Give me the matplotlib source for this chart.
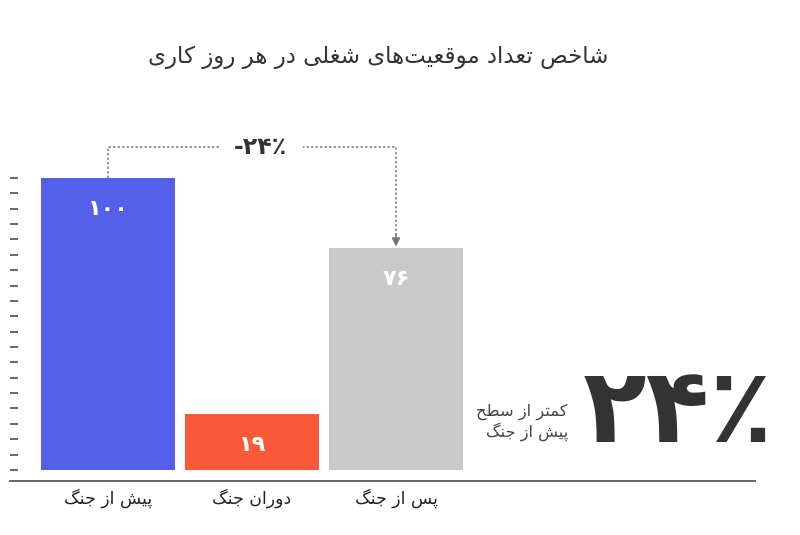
import matplotlib
matplotlib.use('Agg')
import matplotlib.pyplot as plt
import numpy as np

# data
categories = ['پیش از جنگ', 'دوران جنگ', 'پس از جنگ']
values = [100, 19, 76]
bar_colors = ['#5560ea', '#fa5a3a', '#c9c9c9']
title = 'شاخص تعداد موقعیت\u200cهای شغلی در هر روز کاری'
change_label = '-۲۴٪'
big_label = '۲۴٪'
note_lines = ['کمتر از سطح', 'پیش از جنگ']

# presentation forms: (isolated, final, initial, medial) or (isolated, final)
FORMS = {
    'ا': (0xFE8D, 0xFE8E), 'د': (0xFEA9, 0xFEAA), 'ذ': (0xFEAB, 0xFEAC),
    'ر': (0xFEAD, 0xFEAE), 'ز': (0xFEAF, 0xFEB0), 'و': (0xFEED, 0xFEEE),
    'ب': (0xFE8F, 0xFE90, 0xFE91, 0xFE92), 'پ': (0xFB56, 0xFB57, 0xFB58, 0xFB59),
    'ت': (0xFE95, 0xFE96, 0xFE97, 0xFE98), 'ج': (0xFE9D, 0xFE9E, 0xFE9F, 0xFEA0),
    'ح': (0xFEA1, 0xFEA2, 0xFEA3, 0xFEA4), 'خ': (0xFEA5, 0xFEA6, 0xFEA7, 0xFEA8),
    'س': (0xFEB1, 0xFEB2, 0xFEB3, 0xFEB4), 'ش': (0xFEB5, 0xFEB6, 0xFEB7, 0xFEB8),
    'ص': (0xFEB9, 0xFEBA, 0xFEBB, 0xFEBC), 'ط': (0xFEC1, 0xFEC2, 0xFEC3, 0xFEC4),
    'ع': (0xFEC9, 0xFECA, 0xFECB, 0xFECC), 'غ': (0xFECD, 0xFECE, 0xFECF, 0xFED0),
    'ف': (0xFED1, 0xFED2, 0xFED3, 0xFED4), 'ق': (0xFED5, 0xFED6, 0xFED7, 0xFED8),
    'ک': (0xFB8E, 0xFB8F, 0xFB90, 0xFB91), 'گ': (0xFB92, 0xFB93, 0xFB94, 0xFB95),
    'ل': (0xFEDD, 0xFEDE, 0xFEDF, 0xFEE0), 'م': (0xFEE1, 0xFEE2, 0xFEE3, 0xFEE4),
    'ن': (0xFEE5, 0xFEE6, 0xFEE7, 0xFEE8), 'ه': (0xFEE9, 0xFEEA, 0xFEEB, 0xFEEC),
    'ی': (0xFBFC, 0xFBFD, 0xFBFE, 0xFBFF),
}


def fa(text):
    # crude shaping + reversal for right-to-left display
    out = []
    for i, c in enumerate(text):
        if c not in FORMS:
            out.append(c)
            continue
        prev = text[i - 1] if i > 0 else None
        nxt = text[i + 1] if i + 1 < len(text) else None
        f = FORMS[c]
        jp = prev in FORMS and len(FORMS[prev]) == 4
        jn = len(f) == 4 and nxt in FORMS
        if jp and jn:
            k = 3
        elif jp:
            k = 1
        elif jn:
            k = 2
        else:
            k = 0
        out.append(chr(f[k]))
    return ''.join(out).replace('\u200c', '')[::-1]


def fa_digits(n):
    return str(n).translate(str.maketrans('0123456789', '۰۱۲۳۴۵۶۷۸۹'))


plt.rcParams['font.family'] = ['DejaVu Sans']

fig = plt.figure(figsize=(8, 5.35), dpi=100)
ax = fig.add_axes([0.0125, 0.1009, 0.93125, 0.7121])

x = np.arange(len(values))
ax.bar(x, values, width=0.93, color=bar_colors)
for xi, v in zip(x, values):
    ax.text(xi, v - 10.5, fa_digits(v), ha='center', va='center',
            color='white', fontsize=16, fontweight='bold')

ax.set_xlim(-0.681, 4.493)
ax.set_ylim(-3.8, 126.7)

ax.set_xticks(x, [fa(c) for c in categories], fontsize=12.5, color='#222')
ax.tick_params(axis='x', length=0, pad=5)
ax.set_yticks(np.linspace(0, 100, 20))
ax.set_yticklabels([])
ax.tick_params(axis='y', direction='in', length=6, width=1.4, color='#666')
for s in ['top', 'right', 'left']:
    ax.spines[s].set_visible(False)
ax.spines['bottom'].set_color('#666')
ax.spines['bottom'].set_linewidth(1.4)

# bracket showing the drop
yb = 110.6
ax.plot([0, 0, 2, 2], [values[0], yb, yb, values[2] + 4],
        color='#888', linestyle=(0, (1.5, 1.2)), linewidth=1.2)
ax.annotate('', xy=(2, values[2] + 0.5), xytext=(2, values[2] + 4.5),
            arrowprops=dict(arrowstyle='-|>', color='#777', lw=1.2,
                            mutation_scale=12, shrinkA=0, shrinkB=0))
ax.text(1.06, yb, change_label, ha='center', va='center', fontsize=17,
        fontweight='bold', color='#333',
        bbox=dict(facecolor='white', edgecolor='none', pad=11))

fig.text(0.4725, 0.892, fa(title), ha='center', va='center',
         fontsize=16.5, color='#333')
fig.text(0.848, 0.228, big_label, ha='center', va='center',
         fontsize=75, fontweight='bold', color='#333')
fig.text(0.71, 0.211, '\n'.join(fa(s) for s in note_lines), ha='right',
         va='center', multialignment='right', fontsize=11.7, color='#444',
         linespacing=1.1)

fig.savefig('out.png', dpi=100, facecolor='white')
